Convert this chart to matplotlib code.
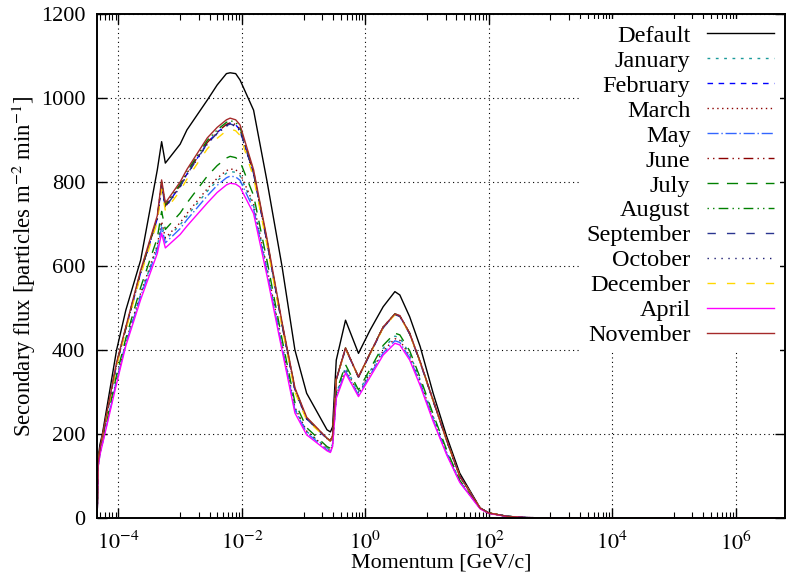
import matplotlib
matplotlib.use("Agg")
import matplotlib.pyplot as plt
import numpy as np
from matplotlib.ticker import FixedLocator, NullFormatter

plt.rcParams['font.family'] = ['Liberation Serif', 'DejaVu Serif']
plt.rcParams['mathtext.fontset'] = 'stix'

# log10 of momentum [GeV/c] for the sampled points
log_p = [-4.345, -4.33, -4.30, -4.26, -4.03, -3.88, -3.64, -3.37, -3.30, -3.24,
         -3.00, -2.89, -2.56, -2.40, -2.25, -2.19, -2.10, -2.03, -1.81, -1.59,
         -1.35, -1.14, -0.95, -0.62, -0.565, -0.53, -0.47, -0.32, -0.11, 0.08,
         0.29, 0.48, 0.56, 0.72, 0.89, 1.10, 1.32, 1.53, 1.86, 2.0,
         2.3, 2.6, 3.0, 4.0, 6.8]

default = [0, 140, 175, 200, 400, 495, 614, 829, 896, 845,
           890, 924, 995, 1031, 1058, 1060, 1058, 1043, 971, 800,
           600, 400, 297, 210, 205, 217, 376, 471, 392, 448,
           503, 539, 531, 479, 408, 297, 194, 107, 24, 12,
           4, 1, 0.3, 0, 0]
january = [0, 122, 153, 179, 329, 418, 533, 646, 701, 662,
           698, 719, 778, 803, 821, 825, 823, 815, 744, 591,
           412, 261, 206, 167, 163, 176, 296, 359, 300, 350,
           404, 433, 429, 391, 329, 242, 158, 89, 23, 11.5,
           4, 1, 0.3, 0, 0]
february = [0, 129, 164, 193, 366, 451, 584, 713, 795, 741,
            790, 819, 893, 918, 936, 940, 936, 924, 821, 656,
            462, 305, 237, 189, 183, 195, 329, 404, 335, 392,
            454, 485, 481, 439, 371, 279, 184, 100, 24, 12,
            4, 1, 0.3, 0, 0]
march = [0, 122, 153, 179, 331, 420, 535, 650, 706, 667,
         703, 725, 784, 809, 827, 831, 829, 821, 748, 594,
         415, 263, 207, 165, 160, 174, 292, 354, 296, 345,
         398, 427, 423, 386, 324, 238, 155, 87, 23, 11.5,
         4, 1, 0.3, 0, 0]
may = [0, 121, 152, 177, 326, 415, 528, 640, 692, 655,
       689, 710, 767, 792, 810, 814, 812, 804, 736, 585,
       407, 257, 203, 162, 158, 172, 289, 350, 293, 341,
       393, 422, 418, 381, 320, 234, 153, 86, 23, 11.5,
       4, 1, 0.3, 0, 0]
june = [0, 129, 164, 194, 367, 452, 585, 714, 796, 743,
        791, 821, 894, 919, 937, 941, 937, 926, 822, 657,
        462, 306, 237, 190, 184, 195, 330, 404, 336, 392,
        454, 485, 481, 439, 371, 280, 185, 100, 24, 12,
        4, 1, 0.3, 0, 0]
july = [0, 124, 156, 183, 341, 428, 549, 667, 730, 687,
        726, 750, 814, 839, 857, 861, 858, 849, 768, 611,
        427, 275, 215, 170, 166, 179, 300, 365, 305, 355,
        411, 440, 436, 398, 334, 247, 162, 90, 23, 11.5,
        4, 1, 0.3, 0, 0]
august = [0, 130, 164, 194, 368, 453, 587, 716, 800, 746,
          795, 825, 899, 924, 942, 946, 942, 930, 825, 659,
          464, 308, 238, 190, 184, 195, 330, 405, 336, 393,
          455, 486, 482, 440, 372, 280, 185, 100, 24, 12,
          4, 1, 0.3, 0, 0]
september = [0, 129, 164, 193, 366, 451, 584, 712, 794, 740,
             789, 818, 891, 916, 934, 938, 934, 923, 820, 655,
             461, 305, 236, 189, 183, 194, 329, 403, 335, 391,
             453, 484, 480, 438, 370, 279, 184, 100, 24, 12,
             4, 1, 0.3, 0, 0]
october = [0, 129, 164, 193, 365, 451, 583, 711, 792, 739,
           788, 817, 890, 915, 933, 937, 933, 921, 819, 654,
           460, 304, 236, 189, 183, 195, 329, 404, 335, 392,
           454, 485, 481, 439, 371, 279, 184, 100, 24, 12,
           4, 1, 0.3, 0, 0]
december = [0, 128, 162, 192, 362, 447, 578, 705, 783, 732,
            779, 807, 879, 904, 922, 926, 922, 911, 811, 648,
            456, 300, 233, 189, 183, 194, 329, 403, 335, 391,
            453, 484, 480, 438, 370, 279, 184, 100, 24, 12,
            4, 1, 0.3, 0, 0]
april = [0, 120, 150, 175, 320, 410, 520, 630, 678, 643,
         675, 695, 750, 775, 793, 797, 795, 788, 725, 575,
         400, 250, 198, 160, 156, 170, 285, 345, 289, 336,
         388, 416, 412, 376, 315, 230, 150, 85, 22, 11,
         3.5, 1, 0.3, 0, 0]
november = [0, 130, 165, 195, 370, 455, 590, 720, 805, 750,
            800, 830, 905, 930, 948, 952, 948, 936, 829, 663,
            467, 310, 240, 190, 184, 195, 330, 405, 336, 393,
            455, 486, 482, 440, 372, 280, 185, 100, 24, 12,
            4, 1, 0.3, 0, 0]

labels = ["Default", "January", "February", "March", "May", "June", "July",
          "August", "September", "October", "December", "April", "November"]
series = [default, january, february, march, may, june, july,
          august, september, october, december, april, november]
colors = ["black", "#1a9a9a", "#0000ff", "#8b0000", "#3366ff", "#8b0000",
          "#008000", "#008000", "#2a3590", "#191970", "#ffd700", "#ff00ff",
          "#a52a2a"]
styles = ["-", (0, (2, 4)), (0, (4, 4)), (0, (1, 2.5)), (0, (8, 2, 1, 2)),
          (0, (1, 3, 1, 3, 7, 3)), (0, (8, 6)), (0, (1, 3, 1, 3, 7, 3)),
          (0, (6, 8)), (0, (1, 4)), (0, (6, 8)), "-", "-"]

p = 10 ** np.array(log_p)

fig = plt.figure(figsize=(7.87, 5.75), dpi=100)
ax = fig.add_axes([0.1233, 0.0991, 0.8745, 0.8766])

for y, lab, c, ls in zip(series, labels, colors, styles):
    ax.plot(p, y, color=c, linestyle=ls, linewidth=1.0, label=lab)

ax.set_xscale("log")
ax.set_xlim(4.5e-5, 6.4e6)
ax.set_ylim(0, 1200)

major = [10.0 ** e for e in range(-4, 7, 2)]
minor = [n * 10.0 ** e for e in range(-5, 7, 2) for n in range(1, 10)]
ax.xaxis.set_major_locator(FixedLocator(major))
ax.xaxis.set_minor_locator(FixedLocator(minor))
ax.xaxis.set_minor_formatter(NullFormatter())
ax.set_xticklabels([r"$10^{%d}$" % e for e in range(-4, 7, 2)])
ax.set_yticks(range(0, 1201, 200))

ax.tick_params(which="both", direction="in", top=True, right=True, labelsize=16)
ax.tick_params(axis="y", pad=8.5)
ax.tick_params(axis="x", pad=10)
ax.tick_params(which="major", length=7, width=1)
ax.tick_params(which="minor", length=4, width=0.8)
for s in ax.spines.values():
    s.set_linewidth(1.4)

ax.grid(True, which="major", color="black", linestyle=(0, (1, 3)), linewidth=0.8)

ax.set_xlabel("Momentum [GeV/c]", fontsize=15.8, labelpad=-1)
ax.set_ylabel(r"Secondary flux [particles m$^{-2}$ min$^{-1}$]", fontsize=16.4, labelpad=2)

leg = ax.legend(loc="upper right", markerfirst=False, fontsize=17.5,
                handlelength=2.75, handletextpad=0.7, labelspacing=0.12,
                borderaxespad=0.2, borderpad=0.25, frameon=True, fancybox=False)
leg.get_frame().set_edgecolor("none")
leg.get_frame().set_facecolor("white")
leg.get_frame().set_alpha(1)
for col in leg._legend_handle_box.get_children():
    col.align = "right"

fig.savefig("out.png", dpi=100)
